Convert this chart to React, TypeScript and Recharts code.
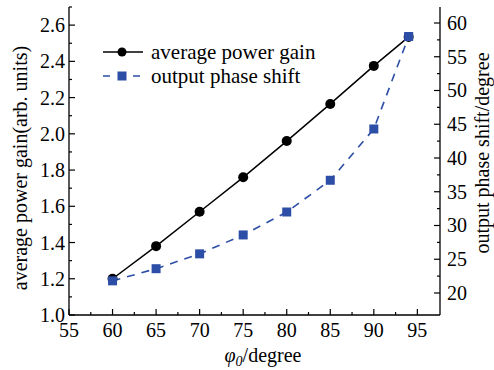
import React from 'react';
import { LineChart, Line, XAxis, YAxis, Legend } from 'recharts';

const angles = [60, 65, 70, 75, 80, 85, 90, 94];
const powerGain = [1.2, 1.38, 1.57, 1.76, 1.96, 2.165, 2.375, 2.535];
const phaseShift = [21.8, 23.6, 25.8, 28.6, 32.0, 36.7, 44.3, 58.0];

const xTicks = [55, 57.5, 60, 62.5, 65, 67.5, 70, 72.5, 75, 77.5, 80, 82.5, 85, 87.5, 90, 92.5, 95];
const leftTicks = [1.0, 1.1, 1.2, 1.3, 1.4, 1.5, 1.6, 1.7, 1.8, 1.9, 2.0, 2.1, 2.2, 2.3, 2.4, 2.5, 2.6, 2.7];
const rightTicks = [20, 22.5, 25, 27.5, 30, 32.5, 35, 37.5, 40, 42.5, 45, 47.5, 50, 52.5, 55, 57.5, 60];

const data = angles.map((a, i) => ({ angle: a, gain: powerGain[i], phase: phaseShift[i] }));

const FONT = '"Liberation Serif", "Times New Roman", serif';
const BLUE = '#2d4ea6';

const isMajor = (v: number, step: number) => Math.abs(v / step - Math.round(v / step)) < 1e-6;

const BottomTick = (props: any) => {
  const { x, y, payload } = props;
  const major = isMajor(payload.value, 5);
  return (
    <g>
      <line x1={x} y1={y} x2={x} y2={y - (major ? 6 : 3)} stroke="#000" strokeWidth={1.2} />
      {major && (
        <text x={x} y={y + 22} textAnchor="middle" fontFamily={FONT} fontSize={20} fill="#000">
          {payload.value}
        </text>
      )}
    </g>
  );
};

const TopTick = (props: any) => {
  const { x, y, payload } = props;
  const major = isMajor(payload.value, 5);
  return <line x1={x} y1={y} x2={x} y2={y + (major ? 6 : 3)} stroke="#000" strokeWidth={1.2} />;
};

const LeftTick = (props: any) => {
  const { x, y, payload } = props;
  const major = isMajor(payload.value, 0.2);
  return (
    <g>
      <line x1={x} y1={y} x2={x + (major ? 6 : 3)} y2={y} stroke="#000" strokeWidth={1.2} />
      {major && (
        <text x={x - 4} y={y + 7} textAnchor="end" fontFamily={FONT} fontSize={20} fill="#000">
          {payload.value.toFixed(1)}
        </text>
      )}
    </g>
  );
};

const RightTick = (props: any) => {
  const { x, y, payload } = props;
  const major = isMajor(payload.value, 5);
  return (
    <g>
      <line x1={x} y1={y} x2={x - (major ? 6 : 3)} y2={y} stroke="#000" strokeWidth={1.2} />
      {major && (
        <text x={x + 7} y={y + 7} textAnchor="start" fontFamily={FONT} fontSize={20} fill="#000">
          {payload.value}
        </text>
      )}
    </g>
  );
};

const SquareDot = (props: any) => {
  const { cx, cy } = props;
  if (cx == null || cy == null) return null;
  return <rect x={cx - 4.5} y={cy - 4.5} width={9} height={9} fill={BLUE} />;
};

const LeftTitle = () => (
  <text x={27} y={168} transform="rotate(-90 27 168)" textAnchor="middle" fontFamily={FONT} fontSize={20} fill="#000">
    average power gain(arb. units)
  </text>
);

const RightTitle = () => (
  <text x={489} y={153} transform="rotate(-90 489 153)" textAnchor="middle" fontFamily={FONT} fontSize={20} fill="#000">
    output phase shift/degree
  </text>
);

const BottomTitle = () => (
  <text x={263} y={362} textAnchor="middle" fontFamily={FONT} fontSize={20} fill="#000">
    <tspan fontStyle="italic">φ</tspan>
    <tspan fontStyle="italic" fontSize={14} dy={4}>0</tspan>
    <tspan dy={-4}>/degree</tspan>
  </text>
);

const renderLegend = () => (
  <div style={{ fontFamily: FONT, fontSize: 21, color: '#000', lineHeight: '24px' }}>
    <div style={{ display: 'flex', alignItems: 'center', height: 24 }}>
      <svg width={51} height={24}>
        <line x1={3} y1={12} x2={43} y2={12} stroke="#000" strokeWidth={1.5} />
        <circle cx={22} cy={12} r={4.5} fill="#000" />
      </svg>
      <span>average power gain</span>
    </div>
    <div style={{ display: 'flex', alignItems: 'center', height: 24 }}>
      <svg width={51} height={24}>
        <line x1={3} y1={12} x2={43} y2={12} stroke={BLUE} strokeWidth={1.6} strokeDasharray="7 8" />
        <rect x={17.5} y={7.5} width={9} height={9} fill={BLUE} />
      </svg>
      <span>output phase shift</span>
    </div>
  </div>
);

export default function App() {
  return (
    <div style={{ position: 'absolute', left: 0, top: 0, width: 494, height: 370, background: '#fff' }}>
      <LineChart width={494} height={370} data={data} margin={{ top: 7, right: 0, bottom: 0, left: 0 }}>
        <XAxis
          xAxisId="b"
          dataKey="angle"
          type="number"
          domain={[55, 97.6]}
          ticks={xTicks}
          interval={0}
          height={55}
          tickSize={0}
          tickMargin={0}
          tickLine={false}
          tick={<BottomTick />}
          axisLine={{ stroke: '#000', strokeWidth: 1.3 }}
          allowDataOverflow
          label={<BottomTitle />}
        />
        <XAxis
          xAxisId="t"
          orientation="top"
          dataKey="angle"
          type="number"
          domain={[55, 97.6]}
          ticks={xTicks}
          interval={0}
          height={0}
          tickSize={0}
          tickMargin={0}
          tickLine={false}
          tick={<TopTick />}
          axisLine={{ stroke: '#000', strokeWidth: 1.3 }}
          allowDataOverflow
        />
        <YAxis
          yAxisId="l"
          type="number"
          domain={[1.0, 2.7]}
          ticks={leftTicks}
          interval={0}
          width={69}
          tickSize={0}
          tickMargin={0}
          tickLine={false}
          tick={<LeftTick />}
          axisLine={{ stroke: '#000', strokeWidth: 1.3 }}
          allowDataOverflow
          label={<LeftTitle />}
        />
        <YAxis
          yAxisId="r"
          orientation="right"
          type="number"
          domain={[16.74, 62.37]}
          ticks={rightTicks}
          interval={0}
          width={54}
          tickSize={0}
          tickMargin={0}
          tickLine={false}
          tick={<RightTick />}
          axisLine={{ stroke: '#000', strokeWidth: 1.3 }}
          allowDataOverflow
          label={<RightTitle />}
        />
        <Legend
          layout="vertical"
          align="center"
          verticalAlign="middle"
          content={renderLegend}
          wrapperStyle={{ left: 100, top: 40, width: 280 }}
        />
        <Line
          xAxisId="b"
          yAxisId="l"
          dataKey="gain"
          stroke="#000"
          strokeWidth={1.5}
          dot={{ r: 5, fill: '#000', stroke: '#000', strokeWidth: 0 }}
          activeDot={false}
          isAnimationActive={false}
        />
        <Line
          xAxisId="t"
          yAxisId="r"
          dataKey="phase"
          stroke={BLUE}
          strokeWidth={1.6}
          strokeDasharray="8 7"
          dot={<SquareDot />}
          activeDot={false}
          isAnimationActive={false}
        />
      </LineChart>
    </div>
  );
}
